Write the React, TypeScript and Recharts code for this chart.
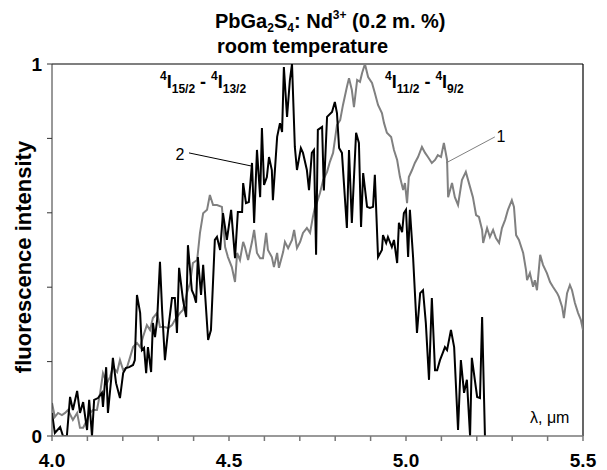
import React from "react";
import {
  LineChart,
  Line,
  XAxis,
  YAxis,
  ReferenceLine,
} from "recharts";

// series 1 (grey) — fluorescence
const grayWavelength = [
  4.0, 4.008, 4.017, 4.028, 4.037, 4.045, 4.059, 4.071, 4.079, 4.088, 4.099, 4.107, 4.116, 4.127,
  4.136, 4.144, 4.155, 4.164, 4.172, 4.184, 4.192, 4.201, 4.212, 4.22, 4.229, 4.24, 4.249, 4.257,
  4.268, 4.277, 4.285, 4.297, 4.305, 4.319, 4.328, 4.339, 4.347, 4.362, 4.37, 4.381, 4.39, 4.398,
  4.41, 4.418, 4.427, 4.438, 4.446, 4.455, 4.466, 4.48, 4.489, 4.497, 4.508, 4.517, 4.523, 4.531,
  4.54, 4.545, 4.554, 4.565, 4.571, 4.579, 4.588, 4.596, 4.605, 4.61, 4.621, 4.627, 4.636, 4.641,
  4.653, 4.658, 4.667, 4.678, 4.684, 4.692, 4.701, 4.709, 4.72, 4.729, 4.737, 4.743, 4.749, 4.757,
  4.766, 4.777, 4.785, 4.794, 4.805, 4.814, 4.822, 4.833, 4.839, 4.847, 4.853, 4.862, 4.87, 4.876,
  4.884, 4.893, 4.904, 4.912, 4.921, 4.932, 4.938, 4.946, 4.958, 4.966, 4.975, 4.983, 4.992, 4.997,
  5.003, 5.008, 5.017, 5.025, 5.034, 5.045, 5.054, 5.062, 5.073, 5.082, 5.09, 5.099, 5.107, 5.116,
  5.119, 5.13, 5.138, 5.147, 5.158, 5.169, 5.181, 5.189, 5.198, 5.206, 5.215, 5.218, 5.229, 5.237,
  5.246, 5.254, 5.263, 5.271, 5.28, 5.288, 5.299, 5.305, 5.311, 5.319, 5.331, 5.339, 5.342, 5.35,
  5.359, 5.364, 5.37, 5.379, 5.387, 5.398, 5.407, 5.415, 5.427, 5.432, 5.441, 5.446, 5.455, 5.463,
  5.469, 5.477, 5.486, 5.494, 5.5,
];
const grayIntensity = [
  0.089, 0.051, 0.062, 0.056, 0.062, 0.07, 0.043, 0.062, 0.022, 0.022, 0.043, 0.062, 0.07, 0.07,
  0.116, 0.169, 0.142, 0.159, 0.185, 0.172, 0.204, 0.177, 0.185, 0.21, 0.239, 0.25, 0.239, 0.266,
  0.298, 0.285, 0.317, 0.331, 0.293, 0.293, 0.29, 0.298, 0.312, 0.331, 0.339, 0.384, 0.411, 0.465,
  0.473, 0.546, 0.599, 0.608, 0.648, 0.621, 0.621, 0.616, 0.508, 0.481, 0.454, 0.414, 0.492, 0.473,
  0.522, 0.508, 0.473, 0.522, 0.554, 0.492, 0.478, 0.478, 0.546, 0.5, 0.481, 0.454, 0.492, 0.452,
  0.495, 0.522, 0.505, 0.527, 0.554, 0.505, 0.522, 0.546, 0.559, 0.546, 0.589, 0.616, 0.629, 0.653,
  0.688, 0.71, 0.737, 0.761, 0.836, 0.849, 0.89, 0.938, 0.962, 0.93, 0.884, 0.957, 0.952, 0.976,
  1.0, 0.965, 0.949, 0.922, 0.89, 0.868, 0.841, 0.815, 0.804, 0.769, 0.742, 0.696, 0.661, 0.68,
  0.626, 0.696, 0.715, 0.734, 0.75, 0.777, 0.761, 0.75, 0.734, 0.742, 0.755, 0.75, 0.788, 0.742,
  0.642, 0.68, 0.642, 0.621, 0.688, 0.71, 0.669, 0.642, 0.594, 0.589, 0.554, 0.519, 0.559, 0.535,
  0.554, 0.532, 0.519, 0.559, 0.581, 0.608, 0.634, 0.616, 0.54, 0.527, 0.492, 0.446, 0.419, 0.438,
  0.401, 0.419, 0.392, 0.487, 0.46, 0.438, 0.414, 0.401, 0.384, 0.374, 0.347, 0.317, 0.384, 0.406,
  0.392, 0.358, 0.331, 0.312, 0.285,
];

// series 2 (black)
const blackWavelength = [
  4.0, 4.008, 4.023, 4.031, 4.042, 4.051, 4.059, 4.071, 4.079, 4.088, 4.099, 4.105, 4.113, 4.119,
  4.13, 4.141, 4.144, 4.153, 4.158, 4.167, 4.172, 4.181, 4.192, 4.201, 4.209, 4.218, 4.229, 4.234,
  4.24, 4.249, 4.254, 4.26, 4.266, 4.271, 4.28, 4.285, 4.291, 4.297, 4.305, 4.311, 4.319, 4.328,
  4.339, 4.347, 4.353, 4.359, 4.37, 4.379, 4.384, 4.395, 4.401, 4.407, 4.412, 4.421, 4.427, 4.441,
  4.449, 4.46, 4.466, 4.475, 4.483, 4.494, 4.506, 4.517, 4.525, 4.537, 4.54, 4.548, 4.556, 4.565,
  4.571, 4.579, 4.588, 4.593, 4.599, 4.607, 4.613, 4.621, 4.624, 4.636, 4.644, 4.65, 4.655, 4.664,
  4.672, 4.678, 4.686, 4.692, 4.703, 4.709, 4.72, 4.726, 4.734, 4.74, 4.746, 4.751, 4.763, 4.768,
  4.777, 4.791, 4.799, 4.805, 4.811, 4.819, 4.833, 4.839, 4.847, 4.859, 4.867, 4.873, 4.879, 4.89,
  4.898, 4.907, 4.912, 4.921, 4.932, 4.935, 4.944, 4.949, 4.96, 4.966, 4.975, 4.98, 4.989, 4.994,
  5.0, 5.006, 5.011, 5.02, 5.031, 5.04, 5.048, 5.056, 5.065, 5.073, 5.082, 5.088, 5.096, 5.105,
  5.11, 5.116, 5.127, 5.136, 5.147, 5.155, 5.164, 5.172, 5.181, 5.186, 5.201, 5.209, 5.215, 5.223,
];
const blackIntensity = [
  0.062, 0.008, 0.024, 0.0, 0.0, 0.105, 0.07, 0.121, 0.062, 0.091, 0.016, 0.097, 0.0, 0.097,
  0.102, 0.116, 0.078, 0.185, 0.062, 0.151, 0.21, 0.142, 0.102, 0.169, 0.183, 0.185, 0.191, 0.204,
  0.379, 0.331, 0.231, 0.237, 0.169, 0.239, 0.172, 0.304, 0.266, 0.312, 0.468, 0.339, 0.204, 0.285,
  0.371, 0.371, 0.277, 0.452, 0.366, 0.32, 0.513, 0.392, 0.379, 0.358, 0.481, 0.379, 0.46, 0.258,
  0.285, 0.527, 0.535, 0.5, 0.599, 0.527, 0.608, 0.478, 0.602, 0.602, 0.68, 0.626, 0.629, 0.734,
  0.573, 0.769, 0.642, 0.828, 0.675, 0.696, 0.75, 0.715, 0.634, 0.804, 0.841, 0.817, 0.992, 0.858,
  0.957, 1.0, 0.777, 0.715, 0.774, 0.761, 0.715, 0.661, 0.761, 0.769, 0.487, 0.823, 0.831, 0.66,
  0.858, 0.871, 0.898, 0.868, 0.774, 0.761, 0.559, 0.769, 0.573, 0.815, 0.788, 0.562, 0.707, 0.616,
  0.613, 0.616, 0.702, 0.481, 0.5, 0.54, 0.519, 0.535, 0.508, 0.527, 0.465, 0.573, 0.548, 0.599,
  0.608, 0.481, 0.608, 0.481, 0.277, 0.384, 0.392, 0.304, 0.151, 0.371, 0.177, 0.177, 0.204, 0.226,
  0.239, 0.231, 0.285, 0.239, 0.016, 0.204, 0.116, 0.151, 0.0, 0.21, 0.105, 0.102, 0.32, 0.0,
];

const xTicks = [4.0, 4.1, 4.2, 4.3, 4.4, 4.5, 4.6, 4.7, 4.8, 4.9, 5.0, 5.1, 5.2, 5.3, 5.4, 5.5];
const xLabelled = [4.0, 4.5, 5.0, 5.5];
const yTicks = [0, 0.2, 0.4, 0.6, 0.8, 1];
const yLabelled = [0, 1];

const grayData = grayWavelength.map((l, i) => ({ l, v: grayIntensity[i] }));
const blackData = blackWavelength.map((l, i) => ({ l, v: blackIntensity[i] }));

const FONT = "'Liberation Sans', Arial, sans-serif";
const W = 599;
const H = 462;

const tickStyle = { fontSize: 19, fontWeight: 700, fill: "#000", fontFamily: FONT };

// transition label like 4I15/2 - 4I13/2 (superscript / subscript)
function Transition({ x, y, lower, upper }: { x: number; y: number; lower: string; upper: string }) {
  return (
    <text x={x} y={y} fontSize={18} fontWeight={700} fill="#000">
      <tspan fontSize={12} dy={-8}>4</tspan>
      <tspan dy={8}>I</tspan>
      <tspan fontSize={12} dy={5}>{lower}</tspan>
      <tspan dy={-5}> - </tspan>
      <tspan fontSize={12} dy={-8}>4</tspan>
      <tspan dy={8}>I</tspan>
      <tspan fontSize={12} dy={5}>{upper}</tspan>
    </text>
  );
}

export default function App() {
  return (
    <div style={{ position: "relative", width: W, height: H, fontFamily: FONT }}>
      <LineChart
        width={W}
        height={H}
        margin={{ top: 56, right: 24, bottom: 4, left: 8 }}
      >
        <XAxis
          dataKey="l"
          type="number"
          domain={[4, 5.5]}
          ticks={xTicks}
          interval={0}
          allowDataOverflow
          stroke="#777"
          strokeWidth={1.5}
          tickSize={5}
          tickMargin={13}
          height={30}
          tick={tickStyle}
          tickFormatter={(v: number) =>
            xLabelled.some((t) => Math.abs(t - v) < 1e-6) ? v.toFixed(1) : ""
          }
        />
        <YAxis
          type="number"
          domain={[0, 1]}
          ticks={yTicks}
          interval={0}
          allowDataOverflow
          width={36}
          stroke="#333"
          tickSize={5}
          tickMargin={5}
          tick={tickStyle}
          tickFormatter={(v: number) => (yLabelled.includes(v) ? String(v) : "")}
        />
        {/* frame: top and right edges */}
        <ReferenceLine y={1} stroke="#000" strokeWidth={1.2} />
        <ReferenceLine x={5.5} stroke="#000" strokeWidth={1.2} />
        <Line
          data={grayData}
          dataKey="v"
          type="linear"
          stroke="#808080"
          strokeWidth={2}
          dot={false}
          isAnimationActive={false}
        />
        <Line
          data={blackData}
          dataKey="v"
          type="linear"
          stroke="#000"
          strokeWidth={2}
          dot={false}
          isAnimationActive={false}
        />
        {/* leader lines for curve numbers */}
        <ReferenceLine
          segment={[{ x: 4.387, y: 0.761 }, { x: 4.562, y: 0.726 }]}
          stroke="#000"
          strokeWidth={1}
        />
        <ReferenceLine
          segment={[{ x: 5.251, y: 0.804 }, { x: 5.113, y: 0.734 }]}
          stroke="#808080"
          strokeWidth={1}
        />
      </LineChart>

      <svg
        width={W}
        height={H}
        style={{ position: "absolute", left: 0, top: 0, pointerEvents: "none" }}
        fontFamily={FONT}
      >
        <text x={207} y={20} fontSize={20} fontWeight={700} fill="#000">
          PbGa<tspan fontSize={12} dy={4}>2</tspan>
          <tspan dy={-4}>S</tspan>
          <tspan fontSize={12} dy={4}>4</tspan>
          <tspan dy={-4}>: Nd</tspan>
          <tspan fontSize={12} dy={-9}>3+</tspan>
          <tspan dy={9}> (0.2 m. %)</tspan>
        </text>
        <text x={209} y={45} fontSize={20} fontWeight={700} fill="#000">
          room temperature
        </text>

        <Transition x={152} y={80} lower="15/2" upper="13/2" />
        <Transition x={377} y={80} lower="11/2" upper="9/2" />

        <text x={172} y={152} fontSize={16} textAnchor="middle" fill="#000">2</text>
        <text x={493} y={134} fontSize={16} textAnchor="middle" fill="#000">1</text>
        <text x={522} y={415} fontSize={16} fill="#000">λ, μm</text>

        <text
          x={15}
          y={249}
          fontSize={22}
          fontWeight={700}
          fill="#000"
          textAnchor="middle"
          dominantBaseline="central"
          transform="rotate(-90 15 249)"
        >
          fluorescence intensity
        </text>
      </svg>
    </div>
  );
}
